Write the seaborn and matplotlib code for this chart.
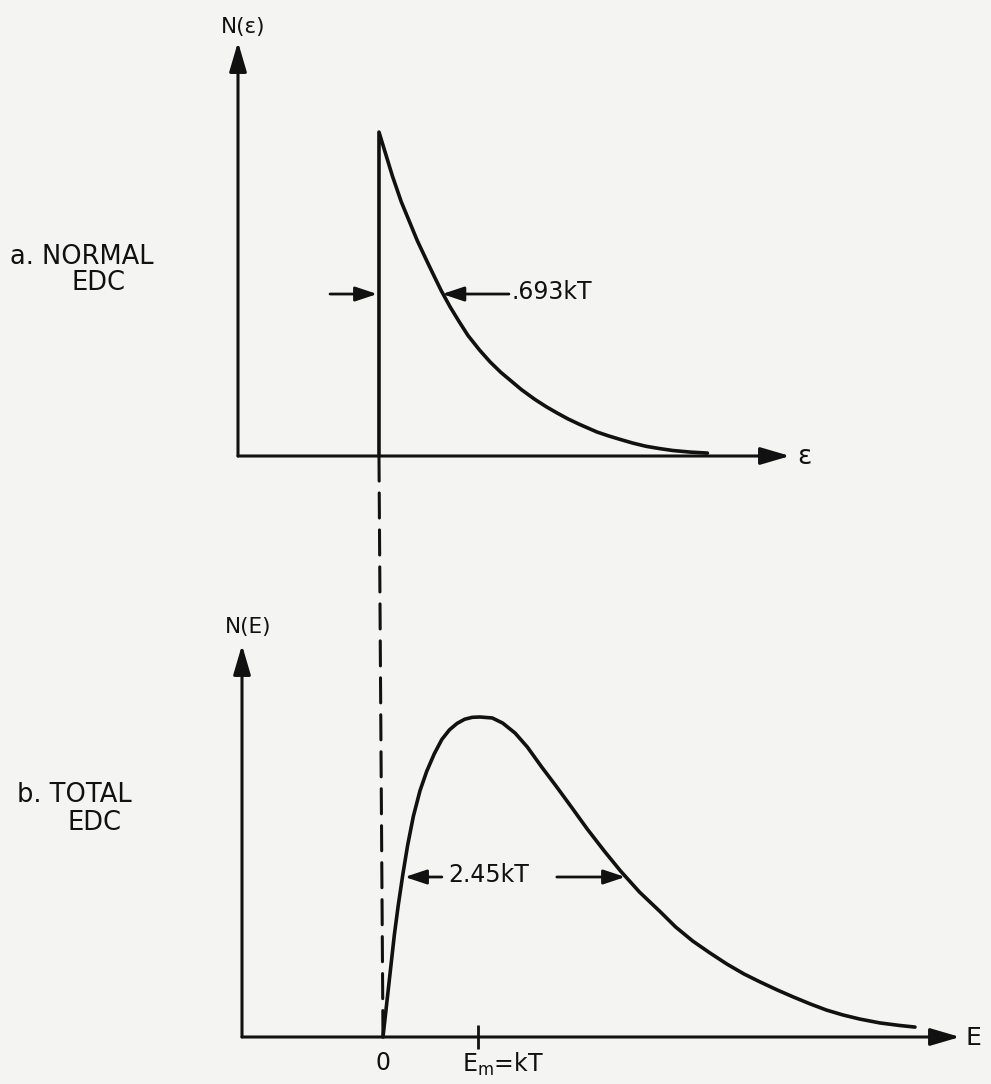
import numpy as np
import pandas as pd
import seaborn as sns
import matplotlib.pyplot as plt
from matplotlib.patches import ConnectionPatch

# curves: E in units of kT, N normalised to the peak

# a. normal EDC (step at 0, then exponential-like decay)
normal_E = [0.0, 0.0, 0.05, 0.10, 0.15, 0.20, 0.25, 0.31, 0.37, 0.43, 0.49, 0.55,
            0.62, 0.70, 0.80, 0.90, 1.00, 1.13, 1.25, 1.37, 1.47, 1.60, 1.75,
            1.88, 2.00, 2.12, 2.25, 2.35, 2.45, 2.58, 2.70, 2.85, 3.00, 3.15,
            3.30, 3.50, 3.69]
normal_N = [0.0, 1.0, 0.955, 0.91, 0.865, 0.825, 0.785, 0.745, 0.705, 0.665, 0.63, 0.595,
            0.555, 0.51, 0.46, 0.415, 0.372, 0.327, 0.29, 0.258, 0.235, 0.205, 0.175,
            0.152, 0.133, 0.115, 0.098, 0.086, 0.074, 0.062, 0.052, 0.040, 0.030, 0.023,
            0.017, 0.012, 0.009]

# b. total EDC (peak at E_m = kT)
total_E = [0.00, 0.03, 0.06, 0.09, 0.12, 0.16, 0.21, 0.26, 0.32, 0.39, 0.46, 0.54,
           0.62, 0.70, 0.78, 0.86, 0.94, 1.02, 1.15, 1.26, 1.39, 1.52, 1.67, 1.83,
           1.99, 2.15, 2.33, 2.50, 2.70, 2.92, 3.08, 3.26, 3.44, 3.62, 3.80, 3.97,
           4.15, 4.32, 4.50, 4.67, 4.84, 5.02, 5.23, 5.44, 5.60]
total_N = [0.00, 0.08, 0.16, 0.24, 0.32, 0.41, 0.51, 0.60, 0.69, 0.77, 0.83, 0.885,
           0.93, 0.96, 0.98, 0.993, 0.999, 1.0, 0.997, 0.981, 0.95, 0.906, 0.844, 0.781,
           0.716, 0.65, 0.581, 0.519, 0.453, 0.391, 0.344, 0.300, 0.263, 0.228, 0.197, 0.172,
           0.147, 0.125, 0.103, 0.084, 0.069, 0.056, 0.044, 0.036, 0.031]

# half-width markers (start, end of each arrow pair)
normal_half = (0.0, 0.70)
total_half = (0.21, 2.55)
E_m = 1.0

normal = pd.DataFrame({"E": normal_E, "N": normal_N})
total = pd.DataFrame({"E": total_E, "N": total_N})

sns.set_theme(style="white")
plt.rcParams["font.family"] = ["DejaVu Sans"]
plt.rcParams["mathtext.fontset"] = "dejavusans"

W, H = 991, 1084
fig = plt.figure(figsize=(W / 100, H / 100), dpi=100)
fig.patch.set_facecolor("#f4f4f2")


def px_axes(left, top, right, bottom):
    return fig.add_axes([left / W, 1 - bottom / H, (right - left) / W, (bottom - top) / H])


def ptext(x, y, s, **kw):
    fig.text(x / W, 1 - y / H, s, color="#111111", **kw)


axis_arrow = dict(arrowstyle="-|>,head_length=0.75,head_width=0.22", lw=2.2, color="#111111",
                  mutation_scale=24, shrinkA=0, shrinkB=0)
small_arrow = dict(arrowstyle="-|>,head_length=0.6,head_width=0.2", lw=2.0, color="#111111",
                   mutation_scale=22, shrinkA=0, shrinkB=0)

ax1 = px_axes(238, 42, 790, 456)
ax2 = px_axes(242, 645, 960, 1037)
ax1.set(xlim=(-1.584, 4.618), ylim=(0, 1.278))
ax2.set(xlim=(-1.484, 6.074), ylim=(0, 1.225))

for ax, df in [(ax1, normal), (ax2, total)]:
    sns.lineplot(data=df, x="E", y="N", estimator=None, sort=False, color="#111111",
                 lw=2.6, ax=ax)
    for line in ax.lines:
        line.set_clip_on(False)
        line.set_solid_joinstyle("round")
    ax.set_facecolor("none")
    sns.despine(ax=ax, left=True, bottom=True)
    ax.set(xlabel=None, ylabel=None, yticks=[])
    # arrowed axes
    ax.annotate("", xy=(1, 0), xytext=(0, 0), xycoords="axes fraction",
                arrowprops=axis_arrow)
    ax.annotate("", xy=(0, 1), xytext=(0, 0), xycoords="axes fraction",
                arrowprops=axis_arrow)

ax1.set_xticks([])
ax2.set_xticks([E_m])
ax2.set_xticklabels([""])
ax2.tick_params(axis="x", bottom=True, direction="inout", length=17, width=2.0,
                colors="#111111")

# half-width arrows
y_half = 0.5
ax1.annotate("", xy=(normal_half[0] - 0.02, y_half), xytext=(normal_half[0] - 0.55, y_half),
             arrowprops=small_arrow)
ax1.annotate("", xy=(normal_half[1] + 0.01, y_half), xytext=(normal_half[1] + 0.76, y_half),
             arrowprops=small_arrow)
ax2.annotate("", xy=(total_half[0] + 0.02, y_half), xytext=(total_half[0] + 0.41, y_half),
             arrowprops=small_arrow)
ax2.annotate("", xy=(total_half[1], y_half), xytext=(total_half[1] - 0.72, y_half),
             arrowprops=small_arrow)

# dashed line joining the two zeros
con = ConnectionPatch(xyA=(0, 0), coordsA=ax1.transData, xyB=(0, 0), coordsB=ax2.transData,
                      color="#111111", lw=2.2, linestyle=(0, (8.2, 3.9)))
fig.add_artist(con)

# texts
ptext(243, 27, "N(ε)", fontsize=15.5, ha="center", va="center")
ptext(797, 457, "ε", fontsize=19, ha="left", va="center")
ptext(248, 627, "N(E)", fontsize=15.5, ha="center", va="center")
ptext(966, 1038, "E", fontsize=18, ha="left", va="center")
ptext(10, 257, "a. NORMAL", fontsize=18.5, ha="left", va="center")
ptext(72, 283, "EDC", fontsize=18.5, ha="left", va="center")
ptext(17, 795, "b. TOTAL", fontsize=18.5, ha="left", va="center")
ptext(68, 823, "EDC", fontsize=18.5, ha="left", va="center")
ptext(512, 292, ".693kT", fontsize=17, ha="left", va="center")
ptext(448, 875, "2.45kT", fontsize=17, ha="left", va="center")
ptext(383, 1051, "0", fontsize=17, ha="center", va="top")
ptext(462, 1051, r"E$_\mathrm{m}$=kT", fontsize=17, ha="left", va="top")

fig.savefig("out.png", dpi=100, facecolor=fig.get_facecolor())
